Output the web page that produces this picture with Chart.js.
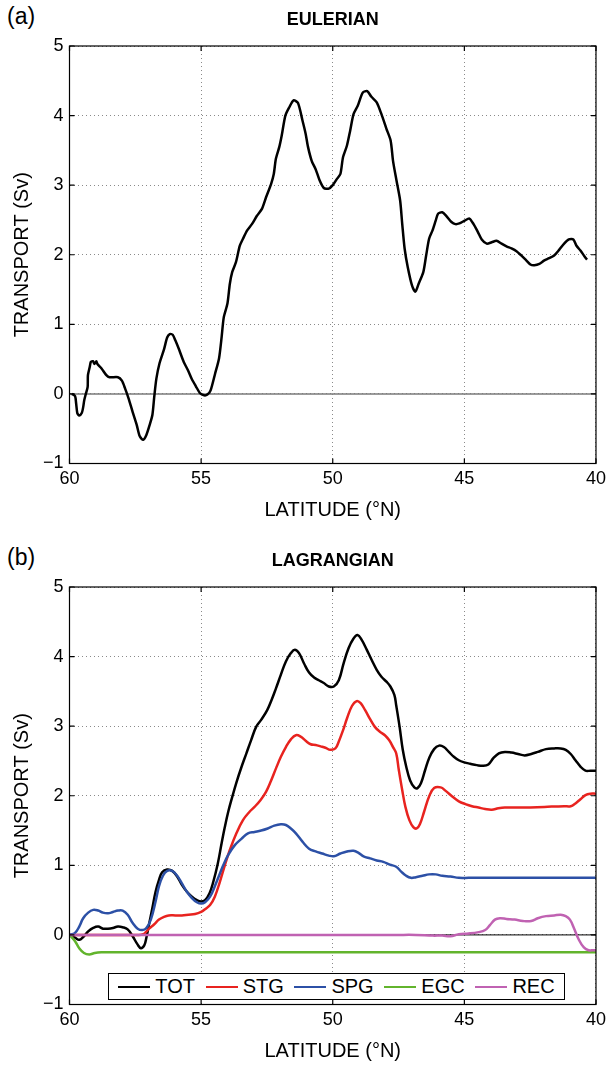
<!DOCTYPE html>
<html>
<head>
<meta charset="utf-8">
<script src="https://cdn.jsdelivr.net/npm/chart.js@4.4.1/dist/chart.umd.min.js"></script>
<style>
  body { margin: 0; background: #fff; }
  #wrap { position: relative; width: 611px; height: 1065px; overflow: hidden; font-family: "Liberation Sans", Arial, sans-serif; }
  .panel { position: absolute; left: 0; width: 611px; height: 524px; }
  .tag { position: absolute; left: 7px; font-size: 23px; color: #000; }
  #legend { position: absolute; left: 108px; top: 973px; width: 457px; height: 27px; border: 1px solid #000; background: #fff;
            display: flex; align-items: center; justify-content: space-around; font-size: 20px; padding: 0 4px; box-sizing: border-box; }
  #legend span.item { display: flex; align-items: center; }
  #legend span.swatch { display: inline-block; width: 32px; height: 0; border-top: 2.5px solid #000; margin-right: 5px; }
</style>
</head>
<body>
<div id="wrap">
  <div class="tag" style="top:3px">(a)</div>
  <div class="panel" style="top:0"><canvas id="eulerian" width="611" height="524"></canvas></div>
  <div class="tag" style="top:544px">(b)</div>
  <div class="panel" style="top:541px"><canvas id="lagrangian" width="611" height="524"></canvas></div>
  <div id="legend"></div>
</div>
<script>
// axis ticks
const xTicks = [60, 55, 50, 45, 40];
const yTicks = [-1, 0, 1, 2, 3, 4, 5];
const zeroLine = [60, 40];

// (a) Eulerian transport
const eulLat = [59.91, 59.79, 59.75, 59.70, 59.63, 59.53, 59.48, 59.44, 59.38, 59.31, 59.30, 59.23, 59.19, 59.11, 59.05, 58.98, 58.94,
  58.79, 58.60, 58.48, 58.16, 58.01, 57.89, 57.76, 57.60, 57.45, 57.33, 57.20, 57.08, 56.95, 56.85, 56.78, 56.70, 56.58, 56.41,
  56.29, 56.19, 56.08, 55.98, 55.83, 55.66, 55.50, 55.35, 55.20, 55.04, 54.89, 54.76, 54.64, 54.47, 54.32, 54.22, 54.14, 54.00,
  53.91, 53.82, 53.68, 53.53, 53.41, 53.25, 53.07, 52.88, 52.69, 52.53, 52.34, 52.24, 52.16, 52.03, 51.94, 51.80, 51.65, 51.49,
  51.32, 51.15, 51.03, 50.94, 50.80, 50.65, 50.50, 50.34, 50.15, 50.00, 49.84, 49.71, 49.61, 49.46, 49.34, 49.21, 49.05, 48.86,
  48.69, 48.53, 48.33, 48.15, 47.96, 47.80, 47.71, 47.58, 47.44, 47.36, 47.27, 47.15, 46.99, 46.86, 46.74, 46.56, 46.46, 46.34,
  46.21, 46.09, 46.00, 45.84, 45.69, 45.49, 45.34, 45.19, 44.99, 44.81, 44.65, 44.49, 44.34, 44.15, 43.96, 43.78, 43.59, 43.40,
  43.21, 43.02, 42.84, 42.65, 42.49, 42.34, 42.15, 41.96, 41.78, 41.59, 41.40, 41.21, 41.03, 40.86, 40.74, 40.59, 40.44, 40.34];
const eulVal = [0, -0.03, -0.13, -0.28, -0.31, -0.27, -0.19, -0.09, 0, 0.10, 0.27, 0.39, 0.46, 0.47, 0.43, 0.47, 0.43,
  0.37, 0.27, 0.24, 0.24, 0.19, 0.08, -0.06, -0.26, -0.44, -0.61, -0.66, -0.59, -0.44, -0.30, -0.04, 0.22, 0.44, 0.64,
  0.81, 0.86, 0.85, 0.77, 0.63, 0.46, 0.34, 0.21, 0.11, 0.01, -0.02, -0.01, 0.05, 0.29, 0.51, 0.82, 1.10, 1.30,
  1.58, 1.75, 1.89, 2.13, 2.23, 2.35, 2.44, 2.56, 2.66, 2.83, 3.02, 3.16, 3.38, 3.55, 3.71, 4.00, 4.12, 4.22,
  4.18, 3.93, 3.74, 3.55, 3.35, 3.23, 3.07, 2.96, 2.95, 3.00, 3.09, 3.16, 3.40, 3.57, 3.78, 4.02, 4.14, 4.33,
  4.35, 4.27, 4.19, 4.02, 3.81, 3.64, 3.35, 3.07, 2.78, 2.44, 2.09, 1.82, 1.56, 1.47, 1.58, 1.75, 1.97, 2.23,
  2.35, 2.49, 2.59, 2.61, 2.56, 2.47, 2.44, 2.45, 2.49, 2.52, 2.44, 2.33, 2.22, 2.16, 2.18, 2.20, 2.16, 2.12,
  2.09, 2.05, 1.99, 1.92, 1.86, 1.85, 1.87, 1.92, 1.95, 1.99, 2.07, 2.16, 2.22, 2.22, 2.13, 2.06, 1.98, 1.93];

// (b) Lagrangian transport components
const lagNames = ["TOT", "STG", "SPG", "EGC", "REC"];
const lagColors = ["#000000", "#e8231f", "#2c50a6", "#62b42c", "#c062b2"];

const totLat = [60, 59.79, 59.63, 59.48, 59.29, 59.10, 58.91, 58.73, 58.54, 58.35, 58.16, 57.98, 57.79, 57.60, 57.41, 57.29, 57.16,
  57.08, 56.98, 56.85, 56.73, 56.60, 56.48, 56.29, 56.10, 55.91, 55.73, 55.54, 55.35, 55.16, 55.00, 54.85, 54.68, 54.54, 54.37,
  54.22, 54.10, 53.97, 53.82, 53.66, 53.47, 53.28, 53.10, 52.91, 52.72, 52.49, 52.32, 52.16, 51.97, 51.78, 51.59, 51.44, 51.28,
  51.09, 50.90, 50.71, 50.53, 50.34, 50.15, 49.96, 49.77, 49.59, 49.40, 49.21, 49.06, 48.90, 48.71, 48.52, 48.33, 48.15, 47.96,
  47.81, 47.66, 47.59, 47.46, 47.34, 47.21, 47.06, 46.90, 46.78, 46.65, 46.49, 46.34, 46.15, 45.96, 45.78, 45.59, 45.40, 45.21,
  45.00, 44.78, 44.53, 44.28, 44.09, 43.90, 43.69, 43.46, 43.21, 42.96, 42.71, 42.46, 42.21, 41.90, 41.59, 41.34, 41.15, 40.96,
  40.78, 40.59, 40.40, 40.21, 40.00];
const totVal = [0, -0.04, -0.07, -0.03, 0.05, 0.10, 0.12, 0.09, 0.09, 0.10, 0.12, 0.11, 0.08, -0.02, -0.14, -0.19, -0.15,
  -0.04, 0.15, 0.39, 0.62, 0.79, 0.90, 0.94, 0.92, 0.84, 0.72, 0.62, 0.55, 0.50, 0.48, 0.50, 0.60, 0.76, 1.02,
  1.32, 1.55, 1.77, 1.98, 2.19, 2.41, 2.61, 2.80, 2.99, 3.09, 3.23, 3.38, 3.54, 3.74, 3.93, 4.05, 4.10, 4.05,
  3.90, 3.77, 3.70, 3.66, 3.62, 3.57, 3.57, 3.66, 3.90, 4.12, 4.26, 4.31, 4.24, 4.10, 3.95, 3.81, 3.71, 3.64,
  3.57, 3.45, 3.30, 2.99, 2.66, 2.42, 2.22, 2.12, 2.11, 2.18, 2.37, 2.54, 2.67, 2.72, 2.70, 2.63, 2.56, 2.51,
  2.48, 2.46, 2.44, 2.43, 2.45, 2.54, 2.61, 2.63, 2.62, 2.60, 2.58, 2.60, 2.63, 2.67, 2.68, 2.68, 2.66, 2.60,
  2.51, 2.42, 2.36, 2.36, 2.36];

const stgLat = [60, 59, 58, 57.40, 57.20, 57.10, 56.98, 56.79, 56.60, 56.41, 56.23, 55.98, 55.73, 55.48, 55.23, 55.00, 54.85,
  54.66, 54.48, 54.29, 54.10, 53.91, 53.66, 53.41, 53.16, 52.97, 52.74, 52.53, 52.34, 52.16, 51.97, 51.78, 51.59, 51.40, 51.22,
  51.03, 50.84, 50.65, 50.46, 50.28, 50.09, 49.90, 49.77, 49.61, 49.46, 49.27, 49.09, 48.94, 48.77, 48.58, 48.40, 48.21, 48.02,
  47.86, 47.71, 47.59, 47.49, 47.36, 47.24, 47.09, 46.94, 46.81, 46.69, 46.53, 46.34, 46.15, 45.90, 45.71, 45.46, 45.21, 44.96,
  44.71, 44.46, 44.21, 43.96, 43.71, 43.46, 42.71, 41.96, 41.21, 40.96, 40.78, 40.59, 40.40, 40.21, 40.00];
const stgVal = [0, 0, 0, 0, 0.01, 0.04, 0.09, 0.15, 0.22, 0.26, 0.28, 0.28, 0.28, 0.29, 0.30, 0.33, 0.37,
  0.43, 0.55, 0.76, 1.00, 1.22, 1.46, 1.65, 1.77, 1.84, 1.94, 2.06, 2.22, 2.39, 2.56, 2.70, 2.81, 2.87, 2.85,
  2.79, 2.74, 2.73, 2.71, 2.69, 2.66, 2.68, 2.78, 2.94, 3.11, 3.29, 3.36, 3.33, 3.23, 3.10, 2.99, 2.92, 2.87,
  2.80, 2.70, 2.61, 2.37, 2.08, 1.84, 1.65, 1.55, 1.53, 1.59, 1.77, 1.99, 2.11, 2.12, 2.07, 1.99, 1.92, 1.88,
  1.85, 1.83, 1.81, 1.80, 1.82, 1.83, 1.83, 1.84, 1.85, 1.85, 1.89, 1.95, 2.01, 2.03, 2.03];

const spgLat = [60, 59.79, 59.63, 59.48, 59.29, 59.10, 58.91, 58.73, 58.54, 58.35, 58.16, 57.98, 57.79, 57.60, 57.41, 57.23, 57.08,
  56.91, 56.73, 56.60, 56.45, 56.29, 56.10, 55.91, 55.73, 55.54, 55.35, 55.16, 55.00, 54.85, 54.66, 54.48, 54.29, 54.16, 53.97,
  53.72, 53.47, 53.22, 52.97, 52.72, 52.47, 52.22, 51.97, 51.78, 51.59, 51.40, 51.15, 50.90, 50.65, 50.40, 50.15, 49.96, 49.71,
  49.46, 49.21, 49.02, 48.83, 48.58, 48.33, 48.08, 47.83, 47.59, 47.40, 47.21, 47.03, 46.84, 46.59, 46.34, 46.09, 45.84, 45.53,
  45.21, 44.84, 42, 40];
const spgVal = [0, 0.03, 0.12, 0.24, 0.32, 0.36, 0.35, 0.32, 0.31, 0.33, 0.35, 0.35, 0.29, 0.17, 0.09, 0.07, 0.10,
  0.22, 0.48, 0.70, 0.85, 0.92, 0.92, 0.85, 0.74, 0.62, 0.53, 0.47, 0.45, 0.47, 0.55, 0.70, 0.88, 1.00, 1.15,
  1.29, 1.38, 1.46, 1.48, 1.50, 1.53, 1.57, 1.59, 1.58, 1.53, 1.46, 1.34, 1.24, 1.20, 1.17, 1.14, 1.13, 1.17,
  1.20, 1.21, 1.18, 1.13, 1.10, 1.07, 1.05, 1.01, 0.98, 0.91, 0.85, 0.82, 0.83, 0.85, 0.87, 0.87, 0.85, 0.84,
  0.82, 0.82, 0.82, 0.82];

const egcLat = [60, 59.79, 59.63, 59.45, 59.25, 59.04, 58.79, 58.54, 50, 40];
const egcVal = [0, -0.09, -0.19, -0.26, -0.28, -0.26, -0.25, -0.25, -0.25, -0.25];

const recLat = [60, 50, 47.59, 46.84, 46.20, 45.84, 45.53, 45.21, 44.84, 44.46, 44.21, 44.03, 43.84, 43.65, 43.40, 43.09,
  42.78, 42.46, 42.21, 41.90, 41.59, 41.34, 41.15, 40.99, 40.84, 40.65, 40.46, 40.28, 40.09, 40.00];
const recVal = [0, 0, 0, 0, -0.01, -0.01, -0.02, 0.01, 0.02, 0.04, 0.07, 0.14, 0.22, 0.24, 0.23, 0.22,
  0.20, 0.20, 0.24, 0.27, 0.28, 0.29, 0.27, 0.22, 0.10, -0.07, -0.18, -0.22, -0.22, -0.22];

const pts = (lats, vals) => lats.map((x, i) => ({ x: x, y: vals[i] }));

Chart.defaults.font.family = '"Liberation Sans", Arial, sans-serif';
Chart.defaults.color = "#000";

// box round the plot with inward tick marks, matlab style
const frame = {
  id: "frame",
  afterDatasetsDraw(chart) {
    const { ctx, chartArea: a, scales } = chart;
    ctx.save();
    ctx.strokeStyle = "#000";
    ctx.lineWidth = 1.2;
    ctx.strokeRect(a.left, a.top, a.right - a.left, a.bottom - a.top);
    ctx.beginPath();
    scales.x.ticks.forEach((t) => {
      const px = scales.x.getPixelForValue(t.value);
      ctx.moveTo(px, a.bottom); ctx.lineTo(px, a.bottom - 5);
      ctx.moveTo(px, a.top); ctx.lineTo(px, a.top + 5);
    });
    scales.y.ticks.forEach((t) => {
      const py = scales.y.getPixelForValue(t.value);
      ctx.moveTo(a.left, py); ctx.lineTo(a.left + 5, py);
      ctx.moveTo(a.right, py); ctx.lineTo(a.right - 5, py);
    });
    ctx.stroke();
    ctx.restore();
  },
};

function makeOptions(title) {
  return {
    responsive: false,
    animation: false,
    devicePixelRatio: 1,
    layout: { autoPadding: false, padding: { left: 0, right: 9, top: 0, bottom: 0 } },
    plugins: {
      legend: { display: false },
      tooltip: { enabled: false },
      title: {
        display: true, text: title, fullSize: false,
        font: { size: 18, weight: "bold" }, padding: { top: 9, bottom: 15.4 },
      },
    },
    scales: {
      x: {
        type: "linear", min: 40, max: 60, reverse: true,
        afterBuildTicks: (s) => { s.ticks = xTicks.map((v) => ({ value: v })); },
        afterFit: (s) => { s.height = 60.5; },
        grid: { color: "#8a8a8a", lineWidth: 1, drawTicks: false },
        border: { display: false, dash: [1, 3] },
        ticks: { font: { size: 18 }, padding: 5, maxRotation: 0 },
        title: { display: true, text: "LATITUDE (°N)", font: { size: 20 }, padding: { top: 0, bottom: 2 } },
      },
      y: {
        type: "linear", min: -1, max: 5,
        afterBuildTicks: (s) => { s.ticks = yTicks.map((v) => ({ value: v })); },
        afterFit: (s) => { s.width = 69.5; },
        grid: { color: "#8a8a8a", lineWidth: 1, drawTicks: false },
        border: { display: false, dash: [1, 3] },
        ticks: { font: { size: 18 }, padding: 6, callback: (v) => String(v).replace("-", "\u2212") },
        title: { display: true, text: "TRANSPORT (Sv)", font: { size: 20 }, padding: { top: 10, bottom: 0 } },
      },
    },
  };
}

new Chart(document.getElementById("eulerian"), {
  type: "scatter",
  data: {
    datasets: [
      { label: "EULERIAN", data: pts(eulLat, eulVal), showLine: true, borderColor: "#000", borderWidth: 2.5,
        pointRadius: 0, tension: 0.25, order: 0 },
      { label: "zero", data: pts(zeroLine, [0, 0]), showLine: true, borderColor: "#7a7a7a", borderWidth: 1.5,
        pointRadius: 0, order: 9 },
    ],
  },
  options: makeOptions("EULERIAN"),
  plugins: [frame],
});

const lagSeries = [[totLat, totVal], [stgLat, stgVal], [spgLat, spgVal], [egcLat, egcVal], [recLat, recVal]];
const lagSets = lagSeries.map((s, i) => ({
  label: lagNames[i], data: pts(s[0], s[1]), showLine: true, borderColor: lagColors[i], borderWidth: 2.5,
  pointRadius: 0, tension: 0.4, order: lagNames.length - i,
}));
lagSets.push({ label: "zero", data: pts(zeroLine, [0, 0]), showLine: true, borderColor: "#000", borderWidth: 1,
  pointRadius: 0, order: 9 });

new Chart(document.getElementById("lagrangian"), {
  type: "scatter",
  data: { datasets: lagSets },
  options: makeOptions("LAGRANGIAN"),
  plugins: [frame],
});

// legend box sits inside the plot area, near the bottom
const legend = document.getElementById("legend");
lagNames.forEach((name, i) => {
  const item = document.createElement("span");
  item.className = "item";
  const sw = document.createElement("span");
  sw.className = "swatch";
  sw.style.borderTopColor = lagColors[i];
  item.appendChild(sw);
  item.appendChild(document.createTextNode(name));
  legend.appendChild(item);
});
</script>
</body>
</html>
